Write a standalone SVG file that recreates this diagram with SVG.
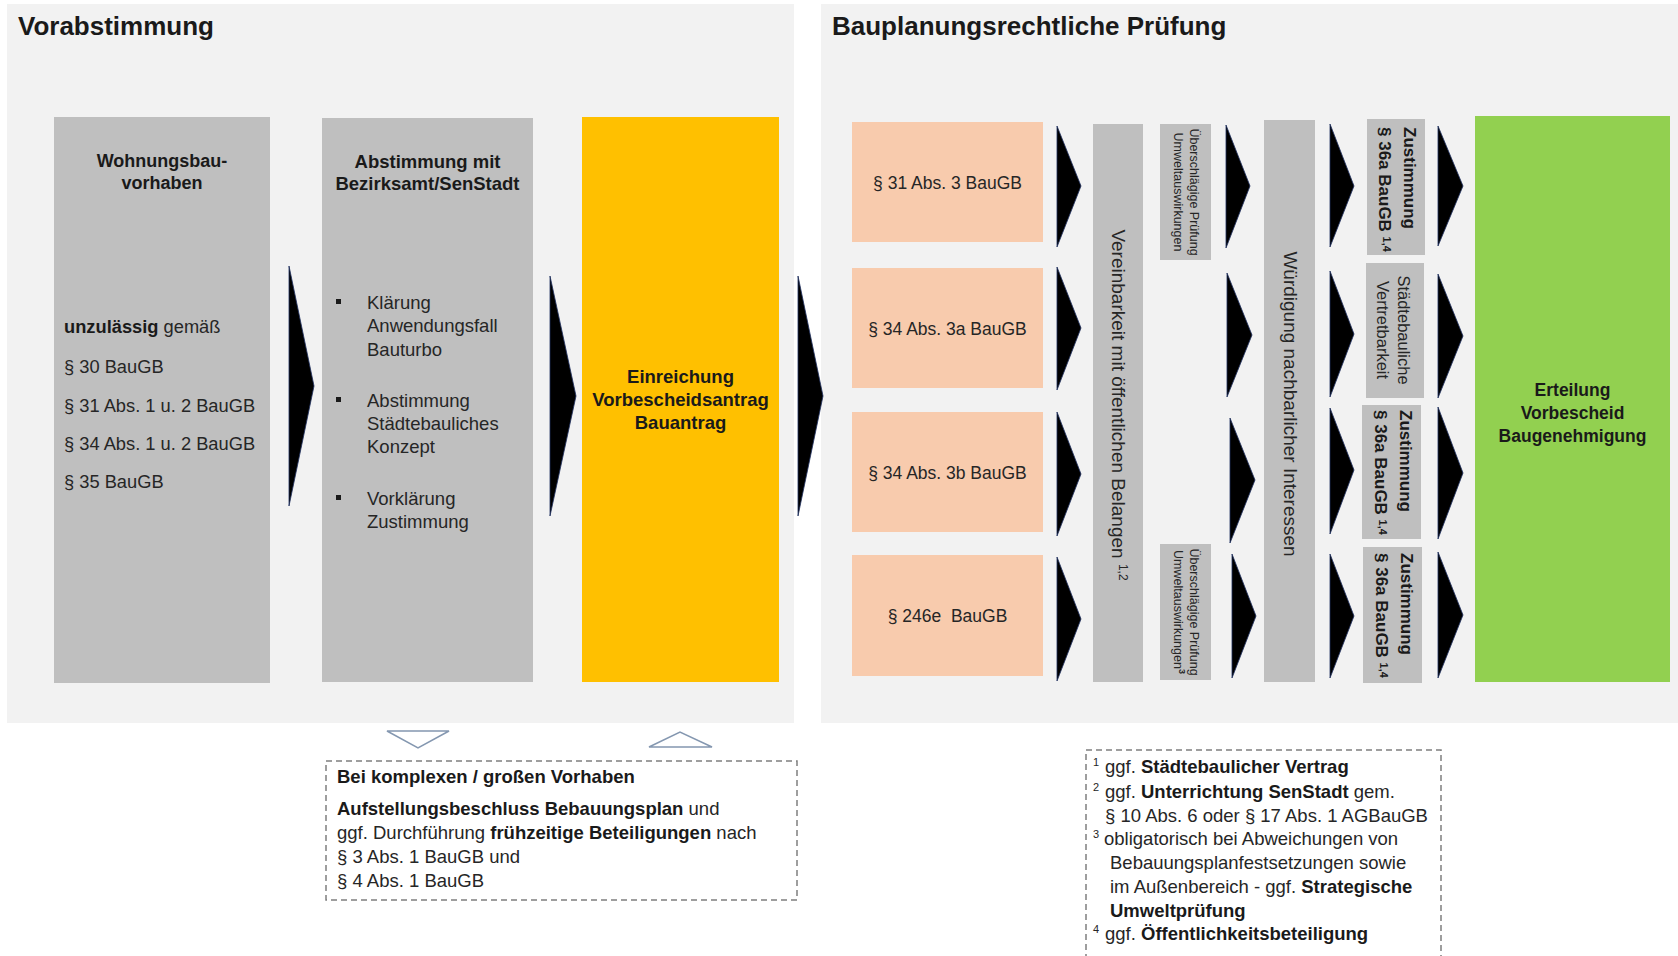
<svg xmlns="http://www.w3.org/2000/svg" width="1678" height="956" viewBox="0 0 1678 956">
<style>
.panel{fill:#f2f2f2}
.gray{fill:#bfbfbf}
.peach{fill:#f8cbad}
.t{font-family:"Liberation Sans",Arial,sans-serif;fill:#262626}
.b{font-weight:bold;fill:#1a1a1a}
.arrow{fill:#000;stroke:#203060;stroke-width:0.8}
.dash{fill:#fff;stroke:#7f7f7f;stroke-width:1.5;stroke-dasharray:6 4}
.tri{fill:#fff;stroke:#8497b0;stroke-width:1.5}
</style>
<rect width="1678" height="956" fill="#fff"/>

<g id="panel-vorabstimmung">
<rect class="panel" x="7" y="4" width="787" height="719"/>
<text class="t b" x="18" y="35" font-size="26">Vorabstimmung</text>
</g>
<g id="panel-pruefung">
<rect class="panel" x="821" y="4" width="857" height="719"/>
<text class="t b" x="832" y="35" font-size="26">Bauplanungsrechtliche Prüfung</text>
</g>

<g id="node-wohnungsbau">
<rect class="gray" x="54" y="117" width="216" height="566"/>
<text class="t b" x="162" y="167" font-size="18" text-anchor="middle">Wohnungsbau-</text>
<text class="t b" x="162" y="189" font-size="18" text-anchor="middle">vorhaben</text>
<text class="t" x="64" y="333" font-size="18.3"><tspan class="b">unzulässig</tspan> gemäß</text>
<text class="t" x="64" y="373" font-size="18.3">§ 30 BauGB</text>
<text class="t" x="64" y="412" font-size="18.3">§ 31 Abs. 1 u. 2 BauGB</text>
<text class="t" x="64" y="450" font-size="18.3">§ 34 Abs. 1 u. 2 BauGB</text>
<text class="t" x="64" y="488" font-size="18.3">§ 35 BauGB</text>
</g>

<g id="node-abstimmung">
<rect class="gray" x="322" y="118" width="211" height="564"/>
<text class="t b" x="427.5" y="168" font-size="18.5" text-anchor="middle">Abstimmung mit</text>
<text class="t b" x="427.5" y="190" font-size="18.5" text-anchor="middle">Bezirksamt/SenStadt</text>
<rect x="336" y="299" width="5" height="5" fill="#1a1a1a"/>
<rect x="336" y="397" width="5" height="5" fill="#1a1a1a"/>
<rect x="336" y="495" width="5" height="5" fill="#1a1a1a"/>
<text class="t" x="367" y="308.5" font-size="18.5">Klärung</text>
<text class="t" x="367" y="332" font-size="18.5">Anwendungsfall</text>
<text class="t" x="367" y="355.5" font-size="18.5">Bauturbo</text>
<text class="t" x="367" y="407" font-size="18.5">Abstimmung</text>
<text class="t" x="367" y="430" font-size="18.5">Städtebauliches</text>
<text class="t" x="367" y="453" font-size="18.5">Konzept</text>
<text class="t" x="367" y="505" font-size="18.5">Vorklärung</text>
<text class="t" x="367" y="528" font-size="18.5">Zustimmung</text>
</g>

<g id="node-einreichung">
<rect x="582" y="117" width="197" height="565" fill="#ffc000"/>
<text class="t b" x="680.5" y="383" font-size="18.5" text-anchor="middle">Einreichung</text>
<text class="t b" x="680.5" y="406" font-size="18.5" text-anchor="middle">Vorbescheidsantrag</text>
<text class="t b" x="680.5" y="429" font-size="18.5" text-anchor="middle">Bauantrag</text>
</g>

<g id="node-p31">
<rect class="peach" x="852" y="122" width="191" height="120"/>
<text class="t" x="947.5" y="188.5" font-size="17.5" text-anchor="middle">§ 31 Abs. 3 BauGB</text>
</g>
<g id="node-p34a">
<rect class="peach" x="852" y="268" width="191" height="120"/>
<text class="t" x="947.5" y="334.5" font-size="17.5" text-anchor="middle">§ 34 Abs. 3a BauGB</text>
</g>
<g id="node-p34b">
<rect class="peach" x="852" y="412" width="191" height="120"/>
<text class="t" x="947.5" y="478.5" font-size="17.5" text-anchor="middle">§ 34 Abs. 3b BauGB</text>
</g>
<g id="node-p246e">
<rect class="peach" x="852" y="555" width="191" height="121"/>
<text class="t" x="947.5" y="622" font-size="17.5" text-anchor="middle" xml:space="preserve">§ 246e  BauGB</text>
</g>

<g id="node-vereinbarkeit">
<rect class="gray" x="1093" y="124" width="50" height="558"/>
<text class="t" font-size="19" text-anchor="middle" transform="translate(1112,405) rotate(90)">Vereinbarkeit mit öffentlichen Belangen <tspan font-size="12" dy="-7">1,2</tspan></text>
</g>

<g id="node-umwelt1">
<rect class="gray" x="1160" y="124" width="51" height="136"/>
<text class="t" font-size="12.5" text-anchor="middle" transform="translate(1190,192) rotate(90)">Überschlägige Prüfung</text>
<text class="t" font-size="12.5" text-anchor="middle" transform="translate(1174,192) rotate(90)">Umweltauswirkungen</text>
</g>
<g id="node-umwelt2">
<rect class="gray" x="1160" y="544" width="51" height="136"/>
<text class="t" font-size="12.5" text-anchor="middle" transform="translate(1190,612) rotate(90)">Überschlägige Prüfung</text>
<text class="t" font-size="12.5" text-anchor="middle" transform="translate(1174,612) rotate(90)">Umweltauswirkungen<tspan font-size="9" font-weight="bold" dy="-5">3</tspan></text>
</g>

<g id="node-wuerdigung">
<rect class="gray" x="1264" y="120" width="51" height="562"/>
<text class="t" font-size="19" text-anchor="middle" transform="translate(1284,404) rotate(90)">Würdigung nachbarlicher Interessen</text>
</g>

<g id="node-zustimmung1">
<rect class="gray" x="1367" y="119" width="58" height="136"/>
<text class="t b" font-size="17" transform="translate(1404,127) rotate(90)">Zustimmung</text>
<text class="t b" font-size="17" transform="translate(1379,127) rotate(90)">§ 36a BauGB <tspan font-size="11" dy="-4">1,4</tspan></text>
</g>
<g id="node-vertretbarkeit">
<rect class="gray" x="1366" y="263" width="58" height="135"/>
<text class="t" font-size="16.5" text-anchor="middle" transform="translate(1398,330) rotate(90)">Städtebauliche</text>
<text class="t" font-size="16.5" text-anchor="middle" transform="translate(1377,330) rotate(90)">Vertretbarkeit</text>
</g>
<g id="node-zustimmung2">
<rect class="gray" x="1362" y="405" width="59" height="134"/>
<text class="t b" font-size="17" transform="translate(1400,410) rotate(90)">Zustimmung</text>
<text class="t b" font-size="17" transform="translate(1375,410) rotate(90)">§ 36a BauGB <tspan font-size="11" dy="-4">1,4</tspan></text>
</g>
<g id="node-zustimmung3">
<rect class="gray" x="1363" y="547" width="59" height="136"/>
<text class="t b" font-size="17" transform="translate(1401,553) rotate(90)">Zustimmung</text>
<text class="t b" font-size="17" transform="translate(1376,553) rotate(90)">§ 36a BauGB <tspan font-size="11" dy="-4">1,4</tspan></text>
</g>

<g id="node-erteilung">
<rect x="1475" y="116" width="195" height="566" fill="#92d050"/>
<text class="t b" x="1572.5" y="396" font-size="17.5" text-anchor="middle">Erteilung</text>
<text class="t b" x="1572.5" y="419" font-size="17.5" text-anchor="middle">Vorbescheid</text>
<text class="t b" x="1572.5" y="442" font-size="17.5" text-anchor="middle">Baugenehmigung</text>
</g>

<g id="connectors">
<polygon class="arrow" points="289,266 289,506 314,386"/>
<polygon class="arrow" points="550,276 550,516 576,396"/>
<polygon class="arrow" points="798,276 798,516 823,396"/>
<polygon class="arrow" points="1057,126 1057,247 1081,186"/>
<polygon class="arrow" points="1057,267 1057,390 1081,328"/>
<polygon class="arrow" points="1057,412 1057,536 1081,474"/>
<polygon class="arrow" points="1057,557 1057,681 1081,619"/>
<polygon class="arrow" points="1226,125 1226,248 1250,186"/>
<polygon class="arrow" points="1227,273 1227,397 1252,335"/>
<polygon class="arrow" points="1230,418 1230,543 1255,480"/>
<polygon class="arrow" points="1232,554 1232,678 1256,616"/>
<polygon class="arrow" points="1330,124 1330,247 1354,186"/>
<polygon class="arrow" points="1330,271 1330,397 1354,334"/>
<polygon class="arrow" points="1330,408 1330,534 1354,470"/>
<polygon class="arrow" points="1330,554 1330,678 1354,616"/>
<polygon class="arrow" points="1438,126 1438,246 1463,186"/>
<polygon class="arrow" points="1438,274 1438,398 1463,336"/>
<polygon class="arrow" points="1438,407 1438,539 1463,473"/>
<polygon class="arrow" points="1438,552 1438,678 1463,615"/>
<polygon class="tri" points="387,731 449,731 418,748"/>
<polygon class="tri" points="649,747 712,747 680,732"/>
</g>

<g id="note-komplex">
<rect class="dash" x="326" y="761" width="471" height="139"/>
<text class="t b" x="337" y="783" font-size="18.5">Bei komplexen / großen Vorhaben</text>
<text class="t" x="337" y="815" font-size="18.5"><tspan class="b">Aufstellungsbeschluss Bebauungsplan</tspan> und</text>
<text class="t" x="337" y="839" font-size="18.5">ggf. Durchführung <tspan class="b">frühzeitige Beteiligungen</tspan> nach</text>
<text class="t" x="337" y="863" font-size="18.5">§ 3 Abs. 1 BauGB und</text>
<text class="t" x="337" y="887" font-size="18.5">§ 4 Abs. 1 BauGB</text>
</g>

<g id="note-fussnoten">
<rect class="dash" x="1086" y="750" width="355" height="230"/>
<text class="t" x="1093" y="766" font-size="11">1</text>
<text class="t" x="1105" y="773" font-size="18.5">ggf. <tspan class="b">Städtebaulicher Vertrag</tspan></text>
<text class="t" x="1093" y="791" font-size="11">2</text>
<text class="t" x="1105" y="798" font-size="18.5">ggf. <tspan class="b">Unterrichtung SenStadt</tspan> gem.</text>
<text class="t" x="1105" y="822" font-size="18.5">§ 10 Abs. 6 oder § 17 Abs. 1 AGBauGB</text>
<text class="t" x="1093" y="838" font-size="11">3</text>
<text class="t" x="1104" y="845" font-size="18.5">obligatorisch bei Abweichungen von</text>
<text class="t" x="1110" y="869" font-size="18.5">Bebauungsplanfestsetzungen sowie</text>
<text class="t" x="1110" y="893" font-size="18.5">im Außenbereich - ggf. <tspan class="b">Strategische</tspan></text>
<text class="t b" x="1110" y="917" font-size="18.5">Umweltprüfung</text>
<text class="t" x="1093" y="933" font-size="11">4</text>
<text class="t" x="1105" y="940" font-size="18.5">ggf. <tspan class="b">Öffentlichkeitsbeteiligung</tspan></text>
</g>
</svg>
